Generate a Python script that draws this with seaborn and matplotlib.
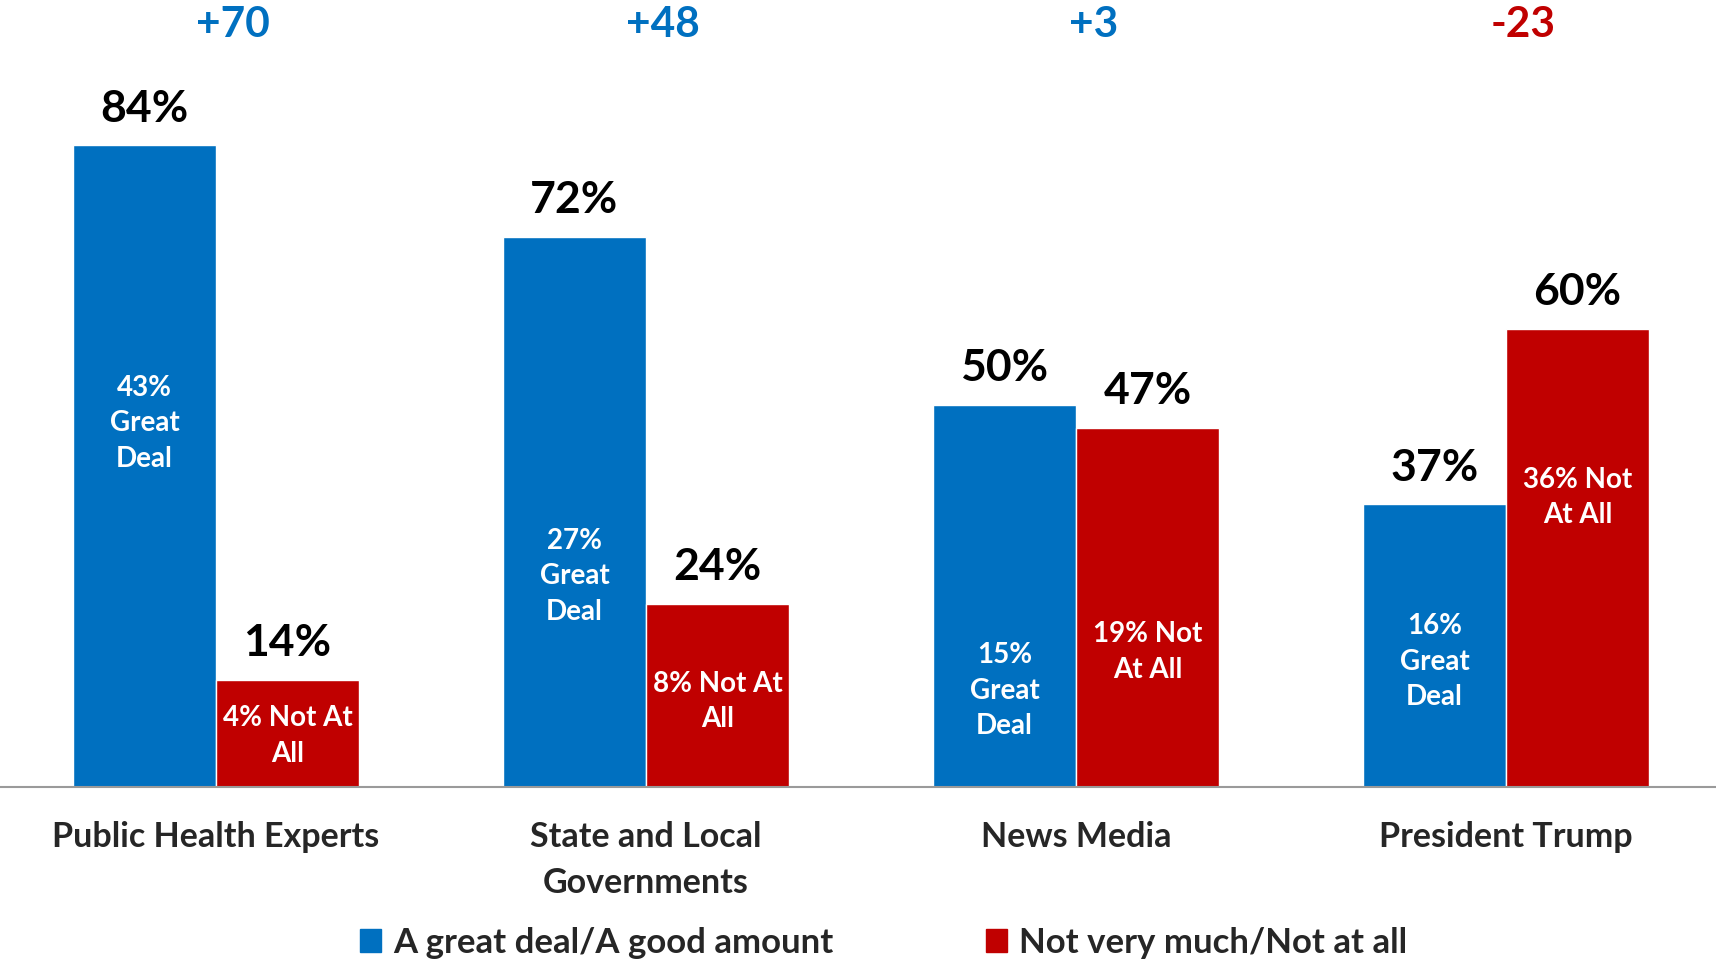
import numpy as np
import pandas as pd
import seaborn as sns
import matplotlib.pyplot as plt

# 数据
categories = ['Public Health Experts', 'State and Local\nGovernments', 'News Media', 'President Trump']
series = ['A great deal/A good amount', 'Not very much/Not at all']
trust = [84, 72, 50, 37]
distrust = [14, 24, 47, 60]
net = ['+70', '+48', '+3', '-23']
net_colors = ['#0070C0', '#0070C0', '#0070C0', '#C00000']
inner_blue = ['43%\nGreat\nDeal', '27%\nGreat\nDeal', '15%\nGreat\nDeal', '16%\nGreat\nDeal']
inner_red = ['4% Not At\nAll', '8% Not At\nAll', '19% Not\nAt All', '36% Not\nAt All']
# 内部标签的纵向位置（版式）
inner_blue_y = [47.6, 27.6, 12.6, 16.4]
inner_red_y = [6.7, 11.2, 17.7, 37.9]

df = pd.DataFrame({
    'category': categories * 2,
    'series': [series[0]] * 4 + [series[1]] * 4,
    'value': trust + distrust,
})

sns.set_style('white')
plt.rcParams['font.family'] = ['Lato', 'DejaVu Sans']
plt.rcParams['font.weight'] = 'bold'

fig = plt.figure(figsize=(17.16, 9.61), dpi=100)
ax = fig.add_axes([0, 0.181, 1, 0.795])
sns.barplot(data=df, x='category', y='value', hue='series', order=categories,
            hue_order=series, palette=['#0070C0', '#C00000'], width=0.665,
            saturation=1, ax=ax, legend=False)
ax.set_xlim(-0.502, 3.488)
ax.set_ylim(0, 100)
ax.set_xlabel('')
ax.set_ylabel('')
ax.set_yticks([])
for s in ['top', 'right', 'left']:
    ax.spines[s].set_visible(False)
ax.spines['bottom'].set_color('#9a9a9a')
ax.spines['bottom'].set_linewidth(1.5)
ax.tick_params(axis='x', length=0, pad=24.5, labelsize=24.5)
for t in ax.get_xticklabels():
    t.set_fontweight('bold')
    t.set_linespacing(1.55)

# 柱顶数值
for cont in ax.containers:
    ax.bar_label(cont, labels=[f'{int(v)}%' for v in cont.datavalues],
                 padding=12, fontsize=32, fontweight='bold', color='black')

off = 0.665 / 4
for i in range(len(categories)):
    ax.text(i - off, inner_blue_y[i], inner_blue[i], ha='center', va='center',
            color='white', fontsize=20, fontweight='bold', linespacing=1.45)
    ax.text(i + off, inner_red_y[i], inner_red[i], ha='center', va='center',
            color='white', fontsize=20, fontweight='bold', linespacing=1.45)
    ax.text(i + 0.04, 99.8, net[i], ha='center', va='center',
            color=net_colors[i], fontsize=30.5, fontweight='bold')

handles = [plt.Rectangle((0, 0), 1, 1, color=c) for c in ['#0070C0', '#C00000']]
fig.legend(handles, series, loc='center', bbox_to_anchor=(0.515, 0.019), ncol=2,
           frameon=False, fontsize=25, handlelength=0.6, handleheight=0.6,
           handletextpad=0.35, columnspacing=4.4)

fig.savefig('out.png', dpi=100)
